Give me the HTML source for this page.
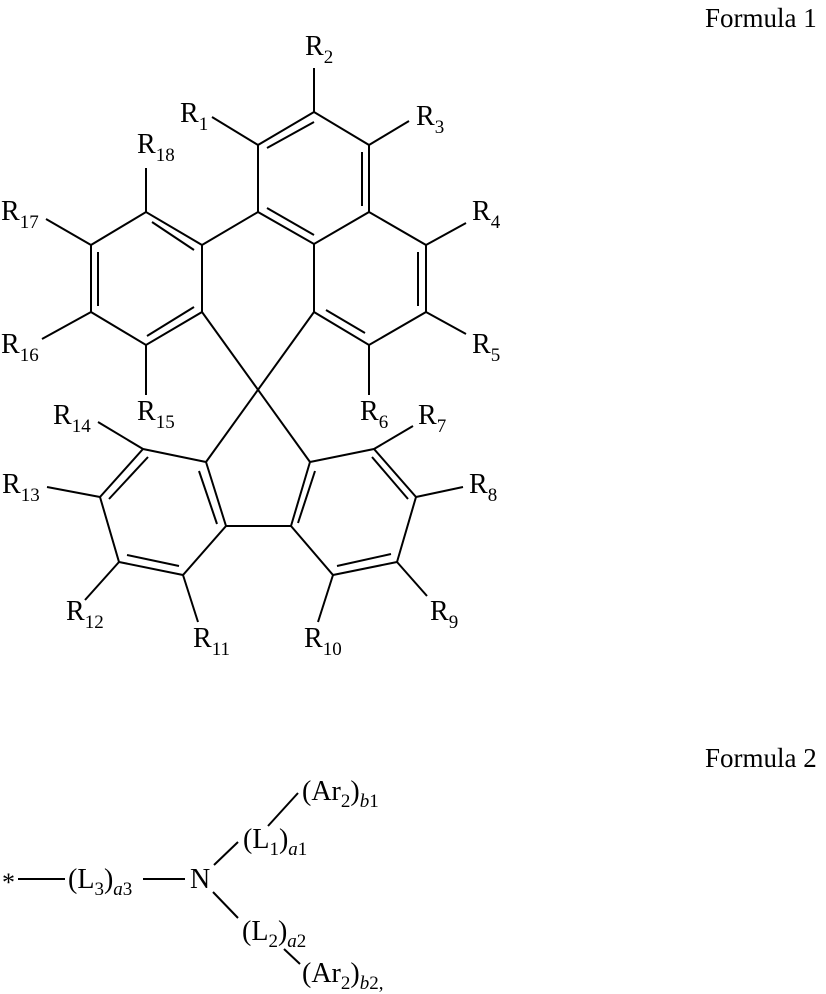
<!DOCTYPE html>
<html><head><meta charset="utf-8"><style>
html,body{margin:0;padding:0;background:#fff}
svg{display:block}
text{font-family:"Liberation Serif",serif;fill:#000}
</style></head><body>
<svg width="826" height="994" viewBox="0 0 826 994" xmlns="http://www.w3.org/2000/svg">
<g stroke="#000" stroke-width="2" fill="none" stroke-linecap="butt">
<polyline points="314,112 369,145 369,212 314,244 258,212 258,145 314,112"/>
<line x1="267" y1="148" x2="314" y2="122"/>
<line x1="362" y1="152" x2="362" y2="206"/>
<line x1="267" y1="208" x2="314" y2="235"/>
<line x1="314" y1="112" x2="314" y2="68"/>
<line x1="258" y1="145" x2="212" y2="117"/>
<line x1="369" y1="145" x2="409" y2="121"/>
<polyline points="369,212 426,245 426,312 369,345 314,312 314,244"/>
<line x1="418" y1="252" x2="418" y2="306"/>
<line x1="326" y1="310" x2="365" y2="333"/>
<line x1="426" y1="245" x2="466" y2="223"/>
<line x1="426" y1="312" x2="466" y2="334"/>
<line x1="369" y1="345" x2="369" y2="395"/>
<line x1="258" y1="212" x2="202" y2="245"/>
<polyline points="202,245 146,212 91,245 91,312 146,345 202,312 202,245"/>
<line x1="152" y1="222" x2="194" y2="250"/>
<line x1="98" y1="252" x2="98" y2="306"/>
<line x1="147" y1="336" x2="194" y2="307"/>
<line x1="146" y1="212" x2="146" y2="168"/>
<line x1="91" y1="245" x2="46" y2="219"/>
<line x1="91" y1="312" x2="42" y2="339"/>
<line x1="146" y1="345" x2="146" y2="395"/>
<line x1="202" y1="312" x2="310" y2="462"/>
<line x1="314" y1="312" x2="206" y2="462"/>
<polyline points="206,462 143,449 100,497 119,562 183,575 226,526 206,462"/>
<line x1="148" y1="457" x2="109" y2="499"/>
<line x1="127" y1="555" x2="179" y2="566"/>
<line x1="199" y1="471" x2="217" y2="524"/>
<line x1="226" y1="526" x2="291" y2="526"/>
<polyline points="310,462 374,449 416,497 397,562 333,575 291,526 310,462"/>
<line x1="372" y1="457" x2="408" y2="499"/>
<line x1="391" y1="554" x2="337" y2="566"/>
<line x1="315" y1="471" x2="298" y2="523"/>
<line x1="143" y1="449" x2="98" y2="422"/>
<line x1="100" y1="497" x2="47" y2="487"/>
<line x1="119" y1="562" x2="85" y2="600"/>
<line x1="183" y1="575" x2="198" y2="622"/>
<line x1="333" y1="575" x2="318" y2="622"/>
<line x1="397" y1="562" x2="427" y2="596"/>
<line x1="416" y1="497" x2="463" y2="487"/>
<line x1="374" y1="449" x2="413" y2="426"/>
<line x1="18" y1="879" x2="65" y2="879"/>
<line x1="143" y1="879" x2="185" y2="879"/>
<line x1="214" y1="865" x2="238" y2="842"/>
<line x1="268" y1="826" x2="298" y2="793"/>
<line x1="213" y1="892" x2="238" y2="918"/>
<line x1="284" y1="949" x2="300" y2="964"/>
</g>
<g font-size="28">
<text x="705" y="27" font-size="27">Formula 1</text>
<text x="705" y="767" font-size="27">Formula 2</text>
<text x="305" y="55">R<tspan font-size="19" dy="8">2</tspan></text>
<text x="180" y="122">R<tspan font-size="19" dy="8">1</tspan></text>
<text x="416" y="125">R<tspan font-size="19" dy="8">3</tspan></text>
<text x="137" y="153">R<tspan font-size="19" dy="8">18</tspan></text>
<text x="1" y="220">R<tspan font-size="19" dy="8">17</tspan></text>
<text x="472" y="220">R<tspan font-size="19" dy="8">4</tspan></text>
<text x="1" y="353">R<tspan font-size="19" dy="8">16</tspan></text>
<text x="472" y="353">R<tspan font-size="19" dy="8">5</tspan></text>
<text x="137" y="420">R<tspan font-size="19" dy="8">15</tspan></text>
<text x="360" y="420">R<tspan font-size="19" dy="8">6</tspan></text>
<text x="53" y="424">R<tspan font-size="19" dy="8">14</tspan></text>
<text x="418" y="424">R<tspan font-size="19" dy="8">7</tspan></text>
<text x="2" y="493">R<tspan font-size="19" dy="8">13</tspan></text>
<text x="469" y="493">R<tspan font-size="19" dy="8">8</tspan></text>
<text x="66" y="620">R<tspan font-size="19" dy="8">12</tspan></text>
<text x="430" y="620">R<tspan font-size="19" dy="8">9</tspan></text>
<text x="193" y="647">R<tspan font-size="19" dy="8">11</tspan></text>
<text x="304" y="647">R<tspan font-size="19" dy="8">10</tspan></text>
<text x="2" y="891" font-size="26">*</text>
<text x="68" y="888">(L<tspan font-size="19" dy="7">3</tspan><tspan dy="-7">)</tspan><tspan font-size="19" dy="7" font-style="italic">a</tspan><tspan font-size="19">3</tspan></text>
<text x="190" y="888">N</text>
<text x="243" y="848">(L<tspan font-size="19" dy="7">1</tspan><tspan dy="-7">)</tspan><tspan font-size="19" dy="7" font-style="italic">a</tspan><tspan font-size="19">1</tspan></text>
<text x="302" y="800">(Ar<tspan font-size="19" dy="7">2</tspan><tspan dy="-7">)</tspan><tspan font-size="19" dy="7" font-style="italic">b</tspan><tspan font-size="19">1</tspan></text>
<text x="242" y="940">(L<tspan font-size="19" dy="7">2</tspan><tspan dy="-7">)</tspan><tspan font-size="19" dy="7" font-style="italic">a</tspan><tspan font-size="19">2</tspan></text>
<text x="302" y="982">(Ar<tspan font-size="19" dy="7">2</tspan><tspan dy="-7">)</tspan><tspan font-size="19" dy="7" font-style="italic">b</tspan><tspan font-size="19">2,</tspan></text>
</g>
</svg>
</body></html>
